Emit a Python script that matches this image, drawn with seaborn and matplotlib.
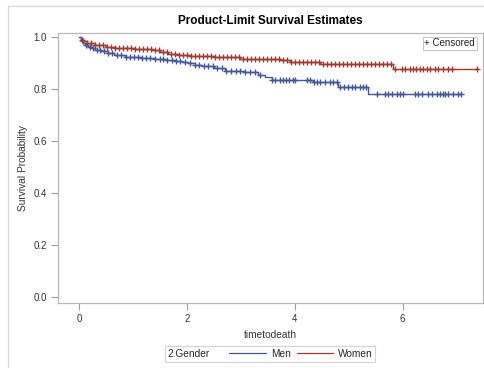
import numpy as np
import pandas as pd
import matplotlib
matplotlib.use("Agg")
import matplotlib.pyplot as plt
from matplotlib.lines import Line2D
from matplotlib.offsetbox import HPacker
import seaborn as sns

# Kaplan-Meier event steps: (time of drop, survival after the drop)
men_event_t = [0.03, 0.07, 0.11, 0.17, 0.24, 0.30, 0.40, 0.54, 0.65, 0.85, 1.15, 1.41,
               1.60, 1.78, 1.90, 2.02, 2.15, 2.28, 2.50, 2.71, 3.05, 3.32, 3.45, 3.58,
               4.34, 4.80, 5.36]
men_event_s = [0.990, 0.980, 0.972, 0.965, 0.958, 0.953, 0.947, 0.940, 0.933, 0.925, 0.922,
               0.918, 0.914, 0.910, 0.905, 0.900, 0.895, 0.890, 0.882, 0.872, 0.865, 0.857,
               0.847, 0.836, 0.827, 0.810, 0.783]
men_censor_t = [0.06, 0.13, 0.20, 0.26, 0.33, 0.39, 0.46, 0.54, 0.61, 0.70, 0.78, 0.87, 0.95,
                1.02, 1.09, 1.17, 1.24, 1.32, 1.41, 1.50, 1.56, 1.63, 1.72, 1.80, 1.87, 1.96,
                2.06, 2.15, 2.22, 2.32, 2.39, 2.48, 2.56, 2.65, 2.72, 2.82, 2.91, 2.98, 3.08,
                3.17, 3.26, 3.35, 3.58, 3.63, 3.73, 3.78, 3.84, 3.89, 3.96, 4.00, 4.23, 4.28,
                4.36, 4.41, 4.47, 4.56, 4.65, 4.71, 4.78, 4.84, 4.91, 4.99, 5.06, 5.12, 5.21,
                5.26, 5.32, 5.52, 5.67, 5.73, 5.80, 5.89, 5.95, 6.01, 6.23, 6.28, 6.36, 6.47,
                6.54, 6.64, 6.69, 6.75, 6.78, 6.84, 6.93, 7.03, 7.08]

women_event_t = [0.03, 0.07, 0.15, 0.30, 0.50, 0.67, 0.90, 1.04, 1.35, 1.50, 1.65, 1.85,
                 2.06, 2.50, 2.98, 3.40, 3.73, 3.91, 4.47, 5.82]
women_event_s = [0.993, 0.985, 0.977, 0.969, 0.964, 0.961, 0.958, 0.955, 0.951, 0.944,
                 0.937, 0.932, 0.927, 0.923, 0.918, 0.915, 0.912, 0.904, 0.898, 0.880]
women_censor_t = [0.07, 0.15, 0.22, 0.30, 0.37, 0.44, 0.52, 0.59, 0.67, 0.74, 0.82, 0.89,
                  0.96, 1.04, 1.11, 1.19, 1.26, 1.33, 1.41, 1.48, 1.56, 1.63, 1.71, 1.78,
                  1.85, 1.93, 2.00, 2.08, 2.15, 2.22, 2.30, 2.37, 2.45, 2.52, 2.60, 2.67,
                  2.74, 2.82, 2.89, 2.97, 3.04, 3.11, 3.19, 3.26, 3.34, 3.41, 3.48, 3.56,
                  3.63, 3.71, 3.78, 3.86, 3.93, 4.00, 4.08, 4.15, 4.23, 4.30, 4.37, 4.45,
                  4.52, 4.60, 4.67, 4.75, 4.82, 4.89, 4.97, 5.04, 5.12, 5.19, 5.26, 5.34,
                  5.41, 5.49, 5.56, 5.63, 5.71, 5.78, 5.86, 5.99, 6.04, 6.14, 6.19, 6.25,
                  6.32, 6.38, 6.45, 6.51, 6.60, 6.65, 6.75, 6.84, 6.91, 7.38]

groups = ["Men", "Women"]
colors = {"Men": "#445694", "Women": "#A23A2E"}
x_ticks = [0, 2, 4, 6]
y_ticks = [0.0, 0.2, 0.4, 0.6, 0.8, 1.0]
y_tick_labels = ["0.0", "0.2", "0.4", "0.6", "0.8", "1.0"]


def step_frame(name, ev_t, ev_s, cen_t):
    end = max(max(ev_t), max(cen_t))
    t = [0.0] + list(ev_t) + [end]
    s = [1.0] + list(ev_s) + [ev_s[-1]]
    return pd.DataFrame({"time": t, "surv": s, "group": name})


def censor_frame(name, ev_t, ev_s, cen_t):
    ev_t = np.asarray(ev_t)
    ev_s = np.asarray(ev_s)
    idx = np.searchsorted(ev_t, np.asarray(cen_t), side="right") - 1
    surv = np.where(idx >= 0, ev_s[np.clip(idx, 0, None)], 1.0)
    return pd.DataFrame({"time": cen_t, "surv": surv, "group": name})


curves = pd.concat([
    step_frame("Men", men_event_t, men_event_s, men_censor_t),
    step_frame("Women", women_event_t, women_event_s, women_censor_t),
])
censors = pd.concat([
    censor_frame("Men", men_event_t, men_event_s, men_censor_t),
    censor_frame("Women", women_event_t, women_event_s, women_censor_t),
])

sns.set_theme(style="white")
plt.rcParams["font.family"] = ["Liberation Sans", "DejaVu Sans"]

fig = plt.figure(figsize=(4.85, 3.68), dpi=100)
ax = fig.add_axes([0.1196, 0.1766, 0.8763, 0.7337])

sns.lineplot(data=curves, x="time", y="surv", hue="group", hue_order=groups,
             palette=colors, drawstyle="steps-post", estimator=None, sort=False,
             linewidth=1.0, legend=False, ax=ax)
for g in groups:
    sub = censors[censors.group == g]
    ax.scatter(sub.time, sub.surv, marker="+", s=24, linewidths=1.0,
               color=colors[g], zorder=3)

ax.set_xlim(-0.39, 7.49)
ax.set_ylim(-0.023, 1.017)
ax.set_xticks(x_ticks)
ax.set_yticks(y_ticks)
ax.set_yticklabels(y_tick_labels)
ax.tick_params(axis="both", which="both", direction="out", length=5, width=0.8,
               color="#a0a0a0", labelsize=7, labelcolor="#333333", pad=3,
               left=True, bottom=True)
for sp in ax.spines.values():
    sp.set_color("#b8b8b8")
    sp.set_linewidth(0.9)
ax.set_xlabel("timetodeath", fontsize=7.3, color="#333333", labelpad=4)
ax.set_ylabel("Survival Probability", fontsize=7.3, color="#333333", labelpad=4)

fig.text(0.557, 0.944, "Product-Limit Survival Estimates", ha="center", va="center",
         fontsize=8.5, fontweight="bold", color="#000000")

# inset legend for the censoring marker
ax.text(0.981, 0.962, "+ Censored", transform=ax.transAxes, ha="right", va="center",
        fontsize=7, color="#222222",
        bbox=dict(boxstyle="square,pad=0.18", fc="white", ec="#c8c8c8", lw=0.8))

# group legend below the plot
handles = [Line2D([], [], color=colors[g], lw=0.9) for g in groups]
leg = fig.legend(handles, groups, loc="center", bbox_to_anchor=(0.557, 0.038),
                 ncol=2, frameon=True, fontsize=7.3, title="2.Gender",
                 title_fontsize=7.3, handlelength=3.6, handletextpad=0.5,
                 columnspacing=0.6, borderpad=0.25, fancybox=False)
leg.get_frame().set_edgecolor("#c8c8c8")
leg.get_frame().set_linewidth(0.8)
# put the title on the same row as the entries
title_box = leg._legend_title_box
handle_box = leg._legend_handle_box
leg._legend_box._children = [HPacker(pad=0, sep=14, align="center",
                                     children=[title_box, handle_box])]

# outer frame lines of the graph area
fig.add_artist(Line2D([8 / 485, 8 / 485], [0, 1 - 6 / 368], transform=fig.transFigure,
                      color="#d8d8d8", lw=0.9))
fig.add_artist(Line2D([8 / 485, 1], [1 - 6 / 368, 1 - 6 / 368], transform=fig.transFigure,
                      color="#d8d8d8", lw=0.9))

fig.savefig("out.png", dpi=100)
